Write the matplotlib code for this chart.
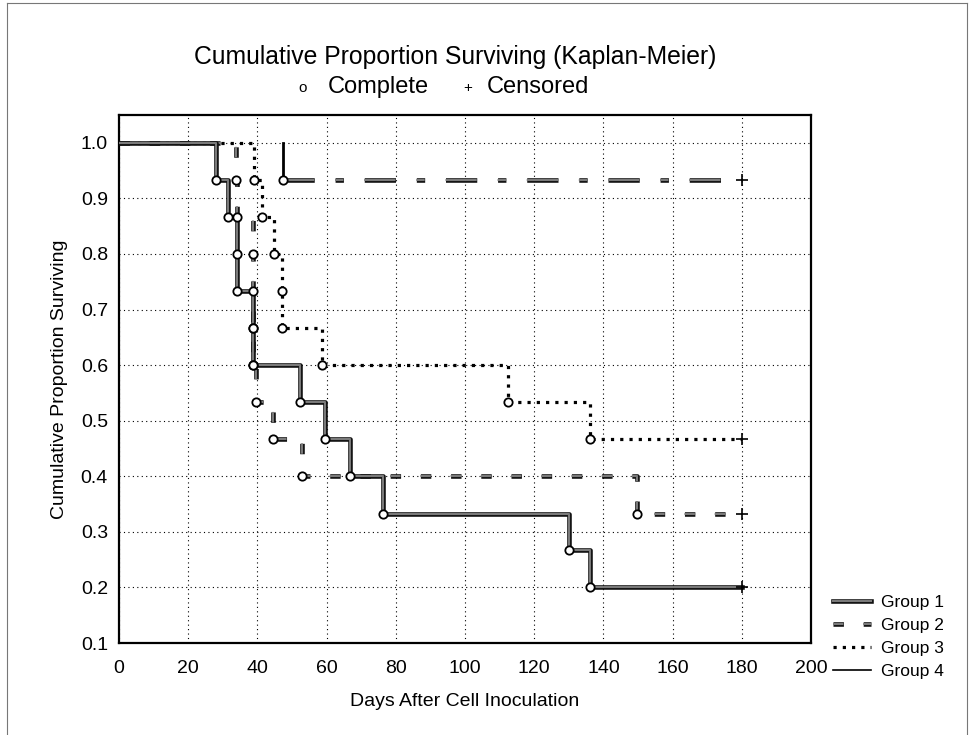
import matplotlib
matplotlib.use("Agg")
import matplotlib.pyplot as plt
import matplotlib.patheffects as pe
from matplotlib.lines import Line2D

plt.rcParams["font.family"] = ["Liberation Sans", "DejaVu Sans"]

# event times (days) and survival after each event
g1_days = [28, 31.5, 34, 34, 38.7, 38.7, 52.3, 59.6, 66.8, 76.3, 130, 136]
g1_surv = [0.933, 0.867, 0.8, 0.733, 0.667, 0.6, 0.533, 0.467, 0.4, 0.333, 0.267, 0.2]

g2_days = [33.8, 34, 38.7, 38.7, 38.7, 38.7, 39.6, 44.5, 52.8, 149.6]
g2_surv = [0.933, 0.867, 0.8, 0.733, 0.667, 0.6, 0.533, 0.467, 0.4, 0.333]

g3_days = [39, 41.3, 44.8, 47.2, 47.2, 58.7, 112.5, 136.1]
g3_surv = [0.933, 0.867, 0.8, 0.733, 0.667, 0.6, 0.533, 0.467]

g4_days = [47.4]
g4_surv = [0.933]

censor_day = 180
group_names = ["Group 1", "Group 2", "Group 3", "Group 4"]

xticks = list(range(0, 201, 20))
yticks = [0.1, 0.2, 0.3, 0.4, 0.5, 0.6, 0.7, 0.8, 0.9, 1.0]

W, H = 970, 735
fig = plt.figure(figsize=(W / 100, H / 100), dpi=100)
ax = fig.add_axes([119 / W, 1 - 643 / H, (811 - 119) / W, (643 - 115) / H])


def km_xy(days, surv):
    x = [0] + days + [censor_day]
    y = [1.0] + surv + [surv[-1]]
    return x, y


grey = "#7a7a7a"
outline = [pe.Stroke(linewidth=3.3, foreground="#111111"), pe.Normal()]

# group 4: vertical drop solid, then long-short dashes
x4, y4 = km_xy(g4_days, g4_surv)
ax.plot([g4_days[0], g4_days[0]], [1.0, g4_surv[0]], color="black", lw=2, zorder=3)
ax.plot(x4[1:], y4[2:] + [y4[-1]], color=grey, lw=1.5,
        linestyle=(0, (15, 10, 4, 10)), dash_capstyle="butt",
        path_effects=outline, zorder=3)

# group 3: dotted
x3, y3 = km_xy(g3_days, g3_surv)
ax.step(x3, y3, where="post", color="black", lw=2.3,
        linestyle=(0, (1, 1.9)), dash_capstyle="butt", zorder=4)

# group 2: dashed
x2, y2 = km_xy(g2_days, g2_surv)
ax.step(x2, y2, where="post", color=grey, lw=1.5,
        linestyle=(0, (5, 9.5)), dash_capstyle="butt",
        path_effects=outline, zorder=5)

# group 1: thick outlined grey
x1, y1 = km_xy(g1_days, g1_surv)
ax.step(x1, y1, where="post", color=grey, lw=1.5,
        path_effects=outline, zorder=6)

# complete (circles) and censored (+) markers
for days, surv in [(g1_days, g1_surv), (g2_days, g2_surv),
                   (g3_days, g3_surv), (g4_days, g4_surv)]:
    ax.plot(days, surv, "o", ms=6, mfc="white", mec="black", mew=1.3, zorder=8)
    ax.plot([censor_day], [surv[-1]], "+", ms=9, color="black", mew=1.2, zorder=8)

ax.set_xlim(0, 200)
ax.set_ylim(0.1, 1.05)
ax.set_xticks(xticks)
ax.set_yticks(yticks)
ax.set_yticklabels([f"{v:.1f}" for v in yticks])
ax.tick_params(length=0, labelsize=14)
ax.tick_params(axis="x", pad=12)
ax.tick_params(axis="y", pad=8)
ax.grid(True, color="black", lw=0.8, linestyle=(0, (1, 3)))
for s in ax.spines.values():
    s.set_linewidth(1.6)

ax.set_xlabel("Days After Cell Inoculation", fontsize=14, labelpad=12)
ax.set_ylabel("Cumulative Proportion Surviving", fontsize=14, labelpad=9)

# titles
fig.text(455 / W, 1 - 57 / H, "Cumulative Proportion Surviving (Kaplan-Meier)",
         fontsize=17.8, ha="center", va="center")
fig.text(303 / W, 1 - 88 / H, "o", fontsize=11, ha="center", va="center")
fig.text(328 / W, 1 - 87 / H, "Complete", fontsize=17, ha="left", va="center")
fig.text(468 / W, 1 - 88 / H, "+", fontsize=11, ha="center", va="center")
fig.text(487 / W, 1 - 87 / H, "Censored", fontsize=17, ha="left", va="center")

# legend
handles = [
    Line2D([], [], color=grey, lw=1.5, path_effects=outline),
    Line2D([], [], color=grey, lw=1.5, linestyle=(0, (5, 9.5)),
           dash_capstyle="butt", path_effects=outline),
    Line2D([], [], color="black", lw=2.3, linestyle=(0, (1, 1.9)),
           dash_capstyle="butt"),
    Line2D([], [], color="black", lw=1.2),
]
fig.legend(handles, group_names, loc="upper left",
           bbox_to_anchor=(826 / W, 1 - 588 / H), frameon=False,
           fontsize=12.5, handlelength=2.2, handletextpad=0.55,
           labelspacing=0.45, borderaxespad=0)

# outer frame
for xs, ys in [([7, 7], [3, 735]), ([7, 967], [3, 3]), ([967, 967], [3, 735])]:
    fig.add_artist(Line2D([x / W for x in xs], [1 - y / H for y in ys],
                          color="#777777", lw=0.8))

fig.savefig("out.png", dpi=100)
